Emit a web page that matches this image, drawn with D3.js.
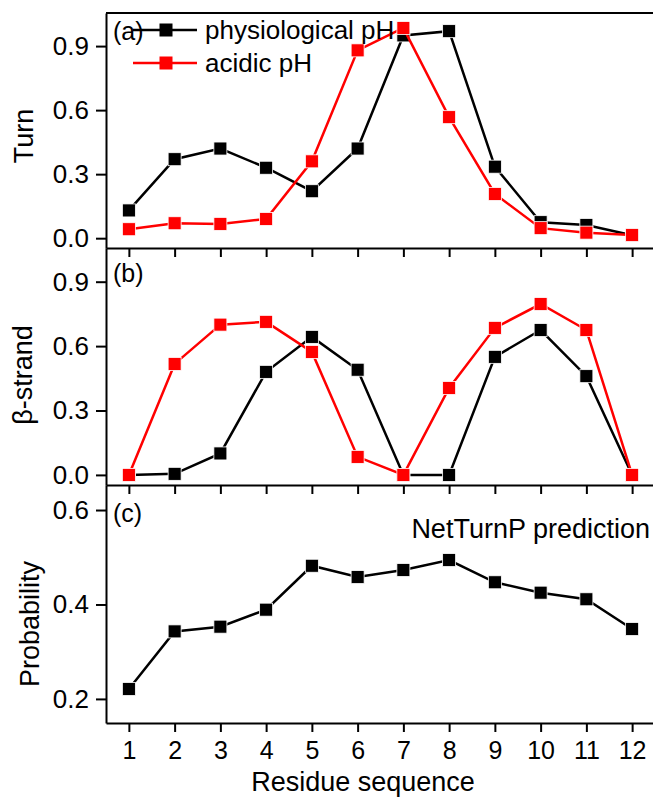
<!DOCTYPE html>
<html>
<head>
<meta charset="utf-8">
<script src="https://cdn.jsdelivr.net/npm/d3@7"></script>
<style>
  body { margin: 0; background: #fff; }
  text { font-family: "Liberation Sans", Arial, sans-serif; fill: #000; }
</style>
</head>
<body>
<div id="graph"></div>
<script>
// data
let residues = [1, 2, 3, 4, 5, 6, 7, 8, 9, 10, 11, 12];
let turnPhys   = [0.13, 0.37, 0.42, 0.33, 0.22, 0.42, 0.95, 0.97, 0.335, 0.075, 0.062, 0.014];
let turnAcid   = [0.042, 0.07, 0.067, 0.09, 0.36, 0.88, 0.985, 0.567, 0.207, 0.047, 0.026, 0.015];
let strandPhys = [0, 0.005, 0.1, 0.48, 0.643, 0.49, 0, 0, 0.55, 0.675, 0.46, 0];
let strandAcid = [0, 0.517, 0.7, 0.713, 0.573, 0.084, 0, 0.405, 0.685, 0.796, 0.675, 0];
let netTurnP   = [0.221, 0.343, 0.353, 0.389, 0.482, 0.458, 0.473, 0.494, 0.447, 0.425, 0.411, 0.348];
let turnTicks = [0, 0.3, 0.6, 0.9];
let strandTicks = [0, 0.3, 0.6, 0.9];
let probTicks = [0.2, 0.4, 0.6];

function graph() {
  let w = 653;
  let h = 798;
  let left = 106;
  let colW = 45.75;
  let sq = 13;

  const svg = d3.select("#graph")
                .append("svg")
                .attr("width", w)
                .attr("height", h);

  const xScale = d3.scaleLinear()
                   .domain([0.5, 12.5])
                   .range([left, left + 12 * colW]);

  let panels = [
    { top: 13,  bottom: 248, domain: [-0.046, 1.055], ticks: turnTicks,   fmt: d3.format(".1f"),
      title: "Turn", titleX: 33, titleY: 136, label: "(a)", labelY: 40,
      series: [{ v: turnPhys, c: "#000" }, { v: turnAcid, c: "#ff0000" }] },
    { top: 248, bottom: 485, domain: [-0.047, 1.057], ticks: strandTicks, fmt: d3.format(".1f"),
      title: "\u03b2-strand", titleX: 32, titleY: 375, label: "(b)", labelY: 282,
      series: [{ v: strandPhys, c: "#000" }, { v: strandAcid, c: "#ff0000" }] },
    { top: 485, bottom: 723, domain: [0.149, 0.653], ticks: probTicks,  fmt: d3.format(".1f"),
      title: "Probability", titleX: 39, titleY: 624, label: "(c)", labelY: 522,
      series: [{ v: netTurnP, c: "#000" }] }
  ];

  panels.forEach(p => {
    const yScale = d3.scaleLinear()
                     .domain(p.domain)
                     .range([p.bottom, p.top]);

    // left axis
    const yAxis = d3.axisLeft(yScale)
                    .tickValues(p.ticks)
                    .tickFormat(p.fmt)
                    .tickSize(10)
                    .tickSizeOuter(0)
                    .tickPadding(7);
    let gy = svg.append("g")
                .attr("transform", "translate(" + left + ",0)")
                .call(yAxis);
    gy.selectAll("text").style("font-size", "26px").attr("fill", "#000");

    // bottom axis
    const xAxis = d3.axisBottom(xScale)
                    .tickValues(residues)
                    .tickSize(9)
                    .tickSizeOuter(0)
                    .tickFormat(p.label == "(c)" ? d3.format("d") : "");
    let gx = svg.append("g")
                .attr("transform", "translate(0," + p.bottom + ")")
                .call(xAxis);
    gx.selectAll("text").style("font-size", "25px").attr("fill", "#000").attr("dy", "0.95em");

    svg.selectAll(".domain, .tick line").attr("stroke", "#000").attr("stroke-width", 2);

    svg.append("text")
       .attr("transform", "translate(" + p.titleX + "," + p.titleY + ") rotate(-90)")
       .attr("text-anchor", "middle")
       .style("font-size", "27px")
       .text(p.title);

    svg.append("text")
       .attr("x", 113)
       .attr("y", p.labelY)
       .style("font-size", "25px")
       .text(p.label);

    p.series.forEach(s => {
      let line = d3.line()
                   .x((d, i) => xScale(residues[i]))
                   .y(d => yScale(d));
      svg.append("path")
         .attr("d", line(s.v))
         .attr("fill", "none")
         .attr("stroke", s.c)
         .attr("stroke-width", 2.5);
      svg.append("g")
         .selectAll("rect")
         .data(s.v)
         .join("rect")
         .attr("x", (d, i) => xScale(residues[i]) - sq / 2)
         .attr("y", d => yScale(d) - sq / 2)
         .attr("width", sq)
         .attr("height", sq)
         .attr("fill", s.c)
         .attr("stroke", "#fff")
         .attr("stroke-width", 0.8);
    });
  });

  // top border of panel (a)
  svg.append("line")
     .attr("x1", left).attr("x2", w)
     .attr("y1", 13).attr("y2", 13)
     .attr("stroke", "#000").attr("stroke-width", 2);

  // legend
  let legend = [{ name: "physiological pH", c: "#000", y: 30 },
                { name: "acidic pH", c: "#ff0000", y: 63 }];
  legend.forEach(l => {
    svg.append("line")
       .attr("x1", 133).attr("x2", 197)
       .attr("y1", l.y).attr("y2", l.y)
       .attr("stroke", l.c).attr("stroke-width", 2.5);
    svg.append("rect")
       .attr("x", 166 - sq / 2).attr("y", l.y - sq / 2)
       .attr("width", sq).attr("height", sq)
       .attr("fill", l.c);
    svg.append("text")
       .attr("x", 205)
       .attr("y", l.y)
       .attr("dy", "0.33em")
       .style("font-size", "26px")
       .text(l.name);
  });

  svg.append("text")
     .attr("x", 650)
     .attr("y", 538)
     .attr("text-anchor", "end")
     .style("font-size", "27px")
     .text("NetTurnP prediction");

  svg.append("text")
     .attr("x", 363)
     .attr("y", 791)
     .attr("text-anchor", "middle")
     .style("font-size", "27px")
     .text("Residue sequence");

} //end of graph func

graph();
</script>
</body>
</html>
